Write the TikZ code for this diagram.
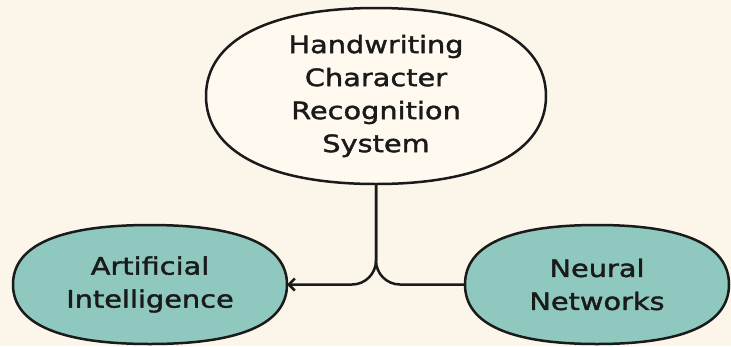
\documentclass[tikz,border=0pt]{standalone}
\usepackage{fontspec}
\setmainfont{DejaVu Sans}[FakeStretch=1.2, FakeBold=1.6]
\usepackage{tikz}
\usetikzlibrary{
  positioning, calc,
  arrows.meta, backgrounds
}

\definecolor{paper}{HTML}{FCF5EA}
\definecolor{cream}{HTML}{FFF9F0}
\definecolor{teal}{HTML}{8FC8BF}
\definecolor{ink}{HTML}{1A1A1A}

\tikzset{
  topic/.style={draw=none, outer sep=0pt, align=center, text=ink,
    font=\fontsize{24}{33}\selectfont},
  link/.style={draw=ink, line width=2.5pt, rounded corners=24pt}
}

% soft box round a node: node, tension, fill
\newcommand{\blob}[3]{
  \filldraw[fill=#3, draw=ink, line width=2.5pt] (#1.west)
    .. controls ($(#1.west)!#2!(#1.north west)$) and ($(#1.north)!#2!(#1.north west)$) .. (#1.north)
    .. controls ($(#1.north)!#2!(#1.north east)$) and ($(#1.east)!#2!(#1.north east)$) .. (#1.east)
    .. controls ($(#1.east)!#2!(#1.south east)$) and ($(#1.south)!#2!(#1.south east)$) .. (#1.south)
    .. controls ($(#1.south)!#2!(#1.south west)$) and ($(#1.west)!#2!(#1.south west)$) .. (#1.west)
    -- cycle;
}

\begin{document}
\begin{tikzpicture}[x=1pt,y=-1pt]
  \useasboundingbox (0,0) rectangle (731,346);

  \node[topic, minimum width=340pt, minimum height=176pt] (sys) at (376,96)
    {Handwriting\\Character\\Recognition\\System};
  \node[topic, minimum width=274pt, minimum height=119pt] (ai) at (150,284.5)
    {Artificial\\Intelligence};
  \node[topic, minimum width=264pt, minimum height=119pt] (nn) at (597,284.5)
    {Neural\\Networks};

  \begin{scope}[on background layer]
    \fill[paper] (0,0) rectangle (731,346);
    \blob{sys}{0.63}{cream}
    \blob{ai}{0.66}{teal}
    \blob{nn}{0.66}{teal}
  \end{scope}

  \draw[link, -{Straight Barb[length=6pt,width=12pt]}] (sys.south) |- (ai.east);
  \draw[link] (sys.south) |- (nn.west);
\end{tikzpicture}
\end{document}
